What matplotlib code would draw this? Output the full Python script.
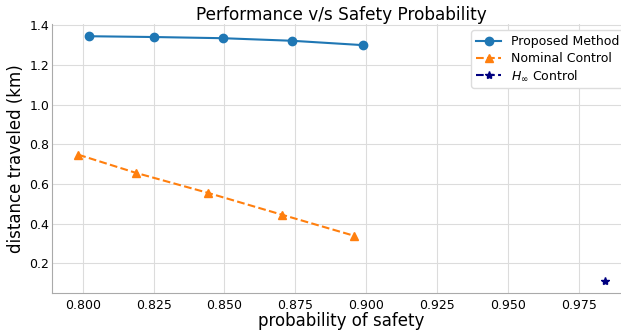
import numpy as np
import matplotlib.pyplot as plt

# probability of safety vs distance traveled for each controller
p_proposed = [0.802, 0.825, 0.8495, 0.874, 0.899]
d_proposed = [1.345, 1.341, 1.335, 1.322, 1.300]

p_nominal = [0.7984, 0.8186, 0.8443, 0.8704, 0.8956]
d_nominal = [0.748, 0.657, 0.555, 0.445, 0.340]

p_hinf = [0.9842]
d_hinf = [0.1126]

fig = plt.figure(figsize=(6.21, 3.30), dpi=100)
ax = fig.add_axes([52 / 621, 37 / 330, 579 / 621, 269 / 330])

ax.plot(p_proposed, d_proposed, '-o', color='#1f77b4', markersize=6, linewidth=1.5,
        label='Proposed Method')
ax.plot(p_nominal, d_nominal, '--^', color='#ff7f0e', markersize=6, linewidth=1.5,
        label='Nominal Control')
ax.plot(p_hinf, d_hinf, '--*', color='navy', markersize=6, linewidth=1.5,
        label=r'$H_\infty$ Control')

ax.set_xticks([0.800, 0.825, 0.850, 0.875, 0.900, 0.925, 0.950, 0.975])
ax.set_yticks([0.2, 0.4, 0.6, 0.8, 1.0, 1.2, 1.4])
ax.grid(True, color='#dcdcdc', linewidth=0.8)
ax.set_axisbelow(True)
for s in ['top', 'right']:
    ax.spines[s].set_visible(False)
for s in ['left', 'bottom']:
    ax.spines[s].set_color('#aaaaaa')
ax.tick_params(length=0, labelsize=9)
ax.tick_params(axis='x', pad=4)
ax.tick_params(axis='y', pad=2)

ax.set_title('Performance v/s Safety Probability', fontsize=12.2, pad=3)
ax.set_xlabel('probability of safety', fontsize=12, labelpad=0)
ax.set_ylabel('distance traveled (km)', fontsize=12, labelpad=3)
ax.legend(loc='upper right', fontsize=9, framealpha=1, edgecolor='#dddddd',
          handlelength=2, labelspacing=0.3)

fig.savefig('out.png', dpi=100)
